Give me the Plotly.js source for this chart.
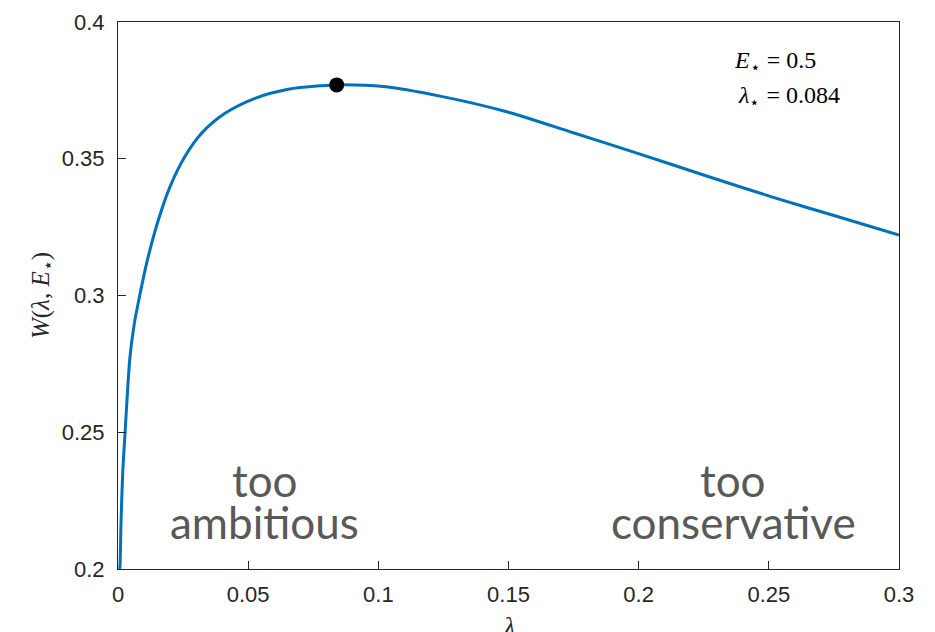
<!DOCTYPE html>
<html>
<head>
<meta charset="utf-8">
<script src="https://cdn.plot.ly/plotly-3.0.1.min.js"></script>
<style>html,body{margin:0;padding:0;background:#fff;}#chart{width:935px;height:632px;}</style>
</head>
<body>
<div id="chart"></div>
<script>
// lambda values and welfare W(lambda, E*)
const lambdaVals = [0.0006, 0.00077, 0.00115, 0.0018, 0.0027, 0.0046, 0.0063, 0.0083, 0.0113, 0.0155, 0.020, 0.0257, 0.0321, 0.0411, 0.0526, 0.0654, 0.0782, 0.084, 0.1019, 0.1237, 0.1493, 0.1749, 0.2005, 0.2261, 0.2517, 0.2773, 0.3];
const wVals = [0.2, 0.2012, 0.2167, 0.2350, 0.2496, 0.2776, 0.2899, 0.2998, 0.3130, 0.3276, 0.3398, 0.3508, 0.3593, 0.3666, 0.3721, 0.3754, 0.3767, 0.377, 0.3764, 0.3729, 0.3672, 0.3595, 0.3517, 0.3437, 0.3359, 0.3286, 0.3221];
const optLambda = [0.084];
const optW = [0.377];
const xTicks = [0, 0.05, 0.1, 0.15, 0.2, 0.25, 0.3];
const xTickText = ['0', '0.05', '0.1', '0.15', '0.2', '0.25', '0.3'];
const yTicks = [0.2, 0.25, 0.3, 0.35, 0.4];
const yTickText = ['0.2', '0.25', '0.3', '0.35', '0.4'];

const traces = [
  {x: lambdaVals, y: wVals, mode: 'lines', type: 'scatter',
   line: {color: '#0072BD', width: 3, shape: 'spline', smoothing: 0.8}, hoverinfo: 'skip'},
  {x: optLambda, y: optW, mode: 'markers', type: 'scatter',
   marker: {color: '#000', size: 15}, hoverinfo: 'skip'}
];

const serif = 'Liberation Serif, DejaVu Serif, serif';
const sans = 'Liberation Sans, Arial, sans-serif';
const gill = 'Lato, sans-serif';
const layout = {
  width: 935, height: 632,
  margin: {l: 118, r: 36, t: 22, b: 63},
  paper_bgcolor: '#fff', plot_bgcolor: '#fff',
  showlegend: false,
  xaxis: {range: [0, 0.3], tickvals: xTicks, ticktext: xTickText,
    ticks: 'inside', ticklen: 8, tickcolor: '#262626', tickwidth: 1,
    showline: true, linecolor: '#262626', linewidth: 1, mirror: true,
    showgrid: false, zeroline: false, ticklabelstandoff: 6,
    tickfont: {family: sans, size: 22, color: '#262626'}},
  yaxis: {range: [0.2, 0.4], tickvals: yTicks, ticktext: yTickText,
    ticks: 'inside', ticklen: 8, tickcolor: '#262626', tickwidth: 1,
    showline: true, linecolor: '#262626', linewidth: 1, mirror: true,
    showgrid: false, zeroline: false, ticklabelstandoff: 8,
    tickfont: {family: sans, size: 22, color: '#262626'},
    title: {text: '<i>W</i>(<i>λ</i>, <i>E</i><sub>⋆</sub>)', font: {family: serif, size: 25, color: '#262626'}, standoff: 5}},
  annotations: [
    {xref: 'paper', yref: 'paper', x: 0.5, y: -0.075, yanchor: 'top', xanchor: 'center', showarrow: false,
     text: '<i>λ</i>', font: {family: serif, size: 26, color: '#262626'}},
    {xref: 'paper', yref: 'paper', x: 0.786, y: 0.927, xanchor: 'left', yanchor: 'middle', showarrow: false,
     text: '<i>E</i><sub>⋆</sub> = 0.5', font: {family: serif, size: 24, color: '#000'}},
    {xref: 'paper', yref: 'paper', x: 0.791, y: 0.863, xanchor: 'left', yanchor: 'middle', showarrow: false,
     text: '<i>λ</i><sub>⋆</sub> = 0.084', font: {family: serif, size: 24, color: '#000'}},
    {xref: 'x', yref: 'paper', x: 0.0563, y: 0.163, xanchor: 'center', yanchor: 'middle', showarrow: false,
     text: 'too', font: {family: gill, size: 44, color: '#595959'}},
    {xref: 'x', yref: 'paper', x: 0.0563, y: 0.086, xanchor: 'center', yanchor: 'middle', showarrow: false,
     text: 'ambitious', font: {family: gill, size: 44, color: '#595959'}},
    {xref: 'x', yref: 'paper', x: 0.2364, y: 0.163, xanchor: 'center', yanchor: 'middle', showarrow: false,
     text: 'too', font: {family: gill, size: 44, color: '#595959'}},
    {xref: 'x', yref: 'paper', x: 0.2364, y: 0.086, xanchor: 'center', yanchor: 'middle', showarrow: false,
     text: 'conservative', font: {family: gill, size: 44, color: '#595959'}}
  ]
};
Plotly.newPlot('chart', traces, layout, {displayModeBar: false, staticPlot: true});
</script>
</body>
</html>
